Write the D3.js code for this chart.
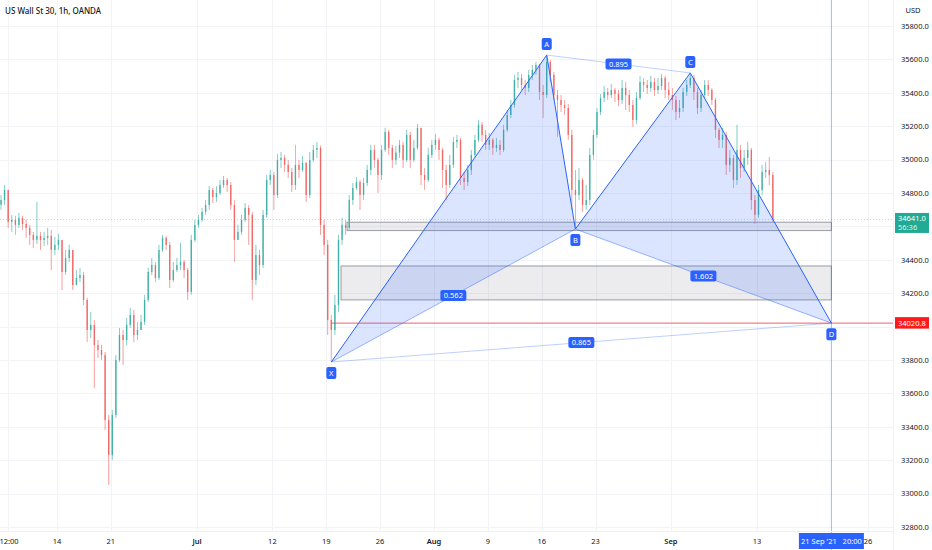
<!DOCTYPE html>
<html>
<head>
<meta charset="utf-8">
<script src="https://cdn.jsdelivr.net/npm/d3@7"></script>
<style>
  body { margin: 0; background: #fff; }
  svg { display: block; font-family: "Noto Sans", "Open Sans", sans-serif; }
</style>
</head>
<body>
<div id="chart"></div>
<script>
// US Wall St 30, 1h, OANDA - candles aggregated to 1/3 trading day each
// time unit: trading days since Mon 14 Jun 2021
const barStart = -5.2;
const barStep = 1 / 3;
const firstOpen = 34730;

const closes = [
  34758, 34818, 34627, 34639, 34609, 34651, 34615, 34591, 34549, 34519,
  34543, 34519, 34531, 34543, 34459, 34489, 34519, 34327, 34411, 34459,
  34249, 34291, 34309, 34160, 33980, 34010, 33890, 33860, 33830, 33441,
  33231, 33471, 33800, 33950, 33920, 34010, 34070, 33950, 33980, 34028,
  34160, 34327, 34369, 34291, 34459, 34531, 34489, 34279, 34339, 34369,
  34387, 34339, 34208, 34519, 34609, 34639, 34687, 34728, 34818, 34776,
  34800, 34848, 34878, 34848, 34728, 34519, 34567, 34639, 34710, 34669,
  34279, 34429, 34369, 34669, 34878, 34908, 34788, 34998, 35010, 34968,
  34926, 34848, 34968, 34938, 34980, 34788, 34998, 35058, 35070, 34609,
  34489, 34040, 33980, 34130, 34519, 34609, 34591, 34758, 34830, 34866,
  34788, 34860, 34938, 35058, 34998, 34908, 35058, 35166, 35070, 34998,
  35042, 35088, 34998, 35148, 34998, 35070, 35190, 34908, 34878, 35028,
  35088, 35118, 35058, 34938, 34848, 34968, 35106, 35118, 34890, 34866,
  34938, 35028, 35118, 35208, 35148, 35088, 35118, 35070, 35088, 35058,
  35178, 35267, 35327, 35477, 35489, 35447, 35429, 35507, 35537, 35567,
  35405, 35387, 35585, 35507, 35387, 35357, 35327, 35309, 35148, 34818,
  34788, 34878, 34728, 34758, 35028, 35148, 35285, 35369, 35405, 35387,
  35417, 35393, 35357, 35429, 35387, 35327, 35237, 35369, 35465, 35447,
  35429, 35465, 35417, 35441, 35489, 35417, 35387, 35357, 35285, 35309,
  35405, 35447, 35489, 35405, 35309, 35387, 35447, 35417, 35357, 35178,
  35118, 35148, 34968, 35010, 34878, 35058, 34950, 35010, 35058, 34758,
  34669, 34818, 34926, 34938, 34908, 34641
];

const highs = [
  34788, 34848, 34818, 34669, 34663, 34681, 34663, 34639, 34609, 34567,
  34746, 34567, 34567, 34591, 34579, 34537, 34555, 34519, 34459, 34489,
  34459, 34339, 34351, 34327, 34172, 34088, 34040, 33920, 33890, 33848,
  33471, 33501, 33830, 33992, 33980, 34052, 34112, 34100, 34028, 34070,
  34190, 34351, 34411, 34387, 34489, 34549, 34543, 34507, 34387, 34411,
  34501, 34399, 34351, 34549, 34639, 34669, 34710, 34758, 34842, 34830,
  34842, 34878, 34902, 34890, 34866, 34758, 34609, 34669, 34740, 34728,
  34687, 34489, 34459, 34699, 34908, 34938, 34926, 35034, 35046, 35028,
  34998, 34950, 35088, 34998, 35022, 34986, 35046, 35088, 35106, 35084,
  34639, 34519, 34070, 34190, 34549, 34651, 34639, 34788, 34860, 34896,
  34878, 34890, 34968, 35088, 35088, 35010, 35088, 35190, 35178, 35088,
  35082, 35118, 35106, 35178, 35166, 35118, 35213, 35178, 34950, 35070,
  35118, 35154, 35130, 35070, 34968, 35028, 35136, 35148, 35130, 34926,
  34968, 35058, 35148, 35237, 35225, 35178, 35160, 35130, 35130, 35118,
  35208, 35297, 35357, 35507, 35525, 35513, 35477, 35537, 35567, 35585,
  35573, 35447, 35626, 35597, 35525, 35417, 35387, 35357, 35333, 35178,
  34938, 34950, 34890, 34848, 35070, 35178, 35309, 35393, 35441, 35429,
  35453, 35429, 35417, 35477, 35465, 35417, 35357, 35405, 35501, 35489,
  35477, 35501, 35489, 35489, 35513, 35501, 35465, 35429, 35381, 35357,
  35429, 35477, 35519, 35507, 35429, 35417, 35477, 35477, 35429, 35369,
  35190, 35190, 35166, 35058, 35028, 35208, 35088, 35058, 35106, 35070,
  34788, 34848, 34968, 34986, 35016, 34926
];

const lows = [
  34699, 34728, 34591, 34567, 34549, 34591, 34579, 34531, 34489, 34471,
  34495, 34459, 34483, 34489, 34339, 34429, 34459, 34219, 34309, 34387,
  34219, 34249, 34267, 34130, 33908, 33932, 33633, 33812, 33800, 33381,
  33052, 33202, 33453, 33788, 33770, 33890, 33992, 33908, 33920, 33980,
  34010, 34148, 34309, 34267, 34279, 34447, 34459, 34231, 34267, 34327,
  34339, 34291, 34160, 34190, 34507, 34591, 34627, 34669, 34699, 34740,
  34746, 34788, 34830, 34806, 34699, 34387, 34519, 34549, 34627, 34489,
  34160, 34249, 34309, 34351, 34651, 34848, 34699, 34770, 34950, 34926,
  34890, 34806, 34818, 34890, 34926, 34746, 34770, 34986, 35010, 34549,
  34429, 33950, 33788, 33950, 34088, 34489, 34549, 34579, 34728, 34818,
  34699, 34758, 34842, 34908, 34950, 34800, 34878, 35046, 35028, 34950,
  34968, 35010, 34950, 34986, 34950, 34986, 35058, 34848, 34818, 34866,
  35010, 35058, 34998, 34830, 34758, 34830, 34950, 35070, 34848, 34818,
  34842, 34908, 35010, 35106, 35106, 35058, 35058, 35028, 35046, 35028,
  35046, 35166, 35249, 35309, 35429, 35417, 35387, 35405, 35477, 35507,
  35357, 35249, 35369, 35465, 35357, 35136, 35285, 35267, 35118, 34699,
  34584, 34758, 34687, 34699, 34728, 34998, 35130, 35267, 35345, 35357,
  35369, 35345, 35321, 35333, 35297, 35285, 35196, 35213, 35357, 35405,
  35393, 35405, 35381, 35393, 35417, 35369, 35357, 35297, 35237, 35249,
  35285, 35381, 35429, 35357, 35273, 35285, 35369, 35381, 35327, 35130,
  35070, 35070, 34908, 34926, 34830, 34848, 34890, 34926, 34968, 34699,
  34615, 34651, 34788, 34890, 34848, 34627
];

const priceTicks = [35800, 35600, 35400, 35200, 35000, 34800, 34600, 34400, 34200, 34000, 33800, 33600, 33400, 33200, 33000, 32800];
const hiddenPriceTicks = [34600, 34000];
const timeTicks = [-4.55, 0, 5, 13, 20, 25, 30, 35, 40, 45, 50, 57, 65, 75.3];
const timeLabels = ['12:00', '14', '21', 'Jul', '12', '19', '26', 'Aug', '9', '16', '23', 'Sep', '13', '26'];
const monthLabels = ['Jul', 'Aug', 'Sep'];

// XABCD pattern
const pointNames = ['X', 'A', 'B', 'C', 'D'];
const pointTimes = [25.47, 45.47, 48.13, 58.8, 71.9];
const pointPrices = [33788, 35626, 34584, 35519, 34020.8];
const ratioPairs = [['X', 'B'], ['A', 'C'], ['B', 'D'], ['X', 'D']];
const ratioLabels = ['0.562', '0.895', '1.602', '0.865'];

// gray zones
const zoneStarts = [26.93, 26.37];
const zoneEnds = [71.9, 71.9];
const zoneTops = [34625, 34363];
const zoneBottoms = [34575, 34160];

const lastPrice = 34641.0;
const countdown = '56:36';
const targetPrice = 34020.8;
const cursorLabel = "21 Sep '21   20:00";

const width = 932;
const height = 550;
const plotRight = 893;
const plotBottom = 531;

const upColor = '#26a69a';
const downColor = '#ef5350';
const blue = '#2962ff';
const textColor = '#131722';

let svg = d3.select('#chart')
    .append('svg')
    .attr('width', width)
    .attr('height', height);

let x = d3.scaleLinear()
    .domain([-5.293, 77.62])
    .range([0, plotRight]);

let y = d3.scaleLinear()
    .domain([35800, 32800])
    .range([26, 527]);

svg.append('defs').append('clipPath')
    .attr('id', 'plot-clip')
    .append('rect')
    .attr('width', plotRight)
    .attr('height', plotBottom);

let plot = svg.append('g').attr('clip-path', 'url(#plot-clip)');

// grid
plot.selectAll('.hgrid').data(priceTicks).enter().append('line')
    .attr('x1', 0).attr('x2', plotRight)
    .attr('y1', d => Math.round(y(d)) + 0.5).attr('y2', d => Math.round(y(d)) + 0.5)
    .style('stroke', '#f2f3f6');
plot.selectAll('.vgrid').data(timeTicks).enter().append('line')
    .attr('x1', d => Math.round(x(d)) + 0.5).attr('x2', d => Math.round(x(d)) + 0.5)
    .attr('y1', 0).attr('y2', plotBottom)
    .style('stroke', '#f2f3f6');

// candles
const candles = closes.map(function(c, i) {
    const o = i === 0 ? firstOpen : closes[i - 1];
    return {
        t: barStart + i * barStep,
        o: o,
        c: c,
        h: Math.max(highs[i], o, c),
        l: Math.min(lows[i], o, c)
    };
});
const bodyWidth = (x(barStep) - x(0)) * 0.4;

plot.selectAll('.wick').data(candles).enter().append('line')
    .attr('x1', d => x(d.t)).attr('x2', d => x(d.t))
    .attr('y1', d => y(d.h)).attr('y2', d => y(d.l))
    .style('stroke', d => d.c >= d.o ? upColor : downColor)
    .style('stroke-width', 0.7)
    .style('opacity', 0.8);

plot.selectAll('.body').data(candles).enter().append('rect')
    .attr('x', d => x(d.t) - bodyWidth / 2)
    .attr('y', d => y(Math.max(d.o, d.c)))
    .attr('width', bodyWidth)
    .attr('height', d => Math.max(0.8, Math.abs(y(d.o) - y(d.c))))
    .style('fill', d => d.c >= d.o ? upColor : downColor)
    .style('opacity', 0.75);

// last price line
plot.append('line')
    .attr('x1', 0).attr('x2', plotRight)
    .attr('y1', y(lastPrice)).attr('y2', y(lastPrice))
    .style('stroke', upColor)
    .style('stroke-opacity', 0.35)
    .style('stroke-dasharray', '1,2');

// zones
plot.selectAll('.zone').data(zoneStarts).enter().append('rect')
    .attr('x', (d, i) => x(d))
    .attr('y', (d, i) => y(zoneTops[i]))
    .attr('width', (d, i) => x(zoneEnds[i]) - x(d))
    .attr('height', (d, i) => y(zoneBottoms[i]) - y(zoneTops[i]))
    .style('fill', 'rgba(120,123,134,0.14)')
    .style('stroke', '#9a9ca3')
    .style('stroke-width', 1);

// target level from X
plot.append('line')
    .attr('x1', x(pointTimes[0])).attr('x2', plotRight)
    .attr('y1', y(targetPrice)).attr('y2', y(targetPrice))
    .style('stroke', '#f23645')
    .style('stroke-opacity', 0.8);

// vertical line at D
svg.append('line')
    .attr('x1', x(pointTimes[4])).attr('x2', x(pointTimes[4]))
    .attr('y1', 0).attr('y2', height)
    .style('stroke', blue)
    .style('stroke-opacity', 0.45);

// pattern
const pt = {};
pointNames.forEach(function(n, i) {
    pt[n] = [x(pointTimes[i]), y(pointPrices[i])];
});

plot.selectAll('.tri').data([['X', 'A', 'B'], ['B', 'C', 'D']]).enter().append('path')
    .attr('d', d => 'M' + d.map(n => pt[n].join(',')).join('L') + 'Z')
    .style('fill', blue)
    .style('fill-opacity', 0.17);

plot.selectAll('.leg').data([['X', 'A'], ['A', 'B'], ['B', 'C'], ['C', 'D']]).enter().append('line')
    .attr('x1', d => pt[d[0]][0]).attr('y1', d => pt[d[0]][1])
    .attr('x2', d => pt[d[1]][0]).attr('y2', d => pt[d[1]][1])
    .style('stroke', blue)
    .style('stroke-width', 1);

plot.selectAll('.ratio-line').data(ratioPairs).enter().append('line')
    .attr('x1', d => pt[d[0]][0]).attr('y1', d => pt[d[0]][1])
    .attr('x2', d => pt[d[1]][0]).attr('y2', d => pt[d[1]][1])
    .style('stroke', blue)
    .style('stroke-opacity', (d, i) => (i === 0 || i === 2) ? 0.45 : 0.3)
    .style('stroke-width', 1);

let ratioG = svg.selectAll('.ratio').data(ratioPairs).enter().append('g')
    .attr('transform', d => `translate(${(pt[d[0]][0] + pt[d[1]][0]) / 2}, ${(pt[d[0]][1] + pt[d[1]][1]) / 2})`);
ratioG.append('rect')
    .attr('x', -13).attr('y', -5.5)
    .attr('width', 26).attr('height', 11)
    .attr('rx', 2)
    .style('fill', blue);
ratioG.append('text')
    .attr('y', 2.6)
    .style('text-anchor', 'middle')
    .style('font-size', '7.5px')
    .style('fill', '#fff')
    .text((d, i) => ratioLabels[i]);

let pointG = svg.selectAll('.pt').data(pointNames).enter().append('g')
    .attr('transform', (d, i) => {
        const above = d === 'A' || d === 'C';
        return `translate(${pt[d][0]}, ${pt[d][1] + (above ? -11 : 11)})`;
    });
pointG.append('rect')
    .attr('x', -5).attr('y', -6)
    .attr('width', 10).attr('height', 12)
    .attr('rx', 2)
    .style('fill', blue);
pointG.append('text')
    .attr('y', 2.7)
    .style('text-anchor', 'middle')
    .style('font-size', '7.5px')
    .style('fill', '#fff')
    .text(d => d);

// axes frame
svg.append('line')
    .attr('x1', plotRight + 0.5).attr('x2', plotRight + 0.5)
    .attr('y1', 0).attr('y2', height)
    .style('stroke', '#eef0f3');
svg.append('line')
    .attr('x1', 0).attr('x2', plotRight)
    .attr('y1', plotBottom + 0.5).attr('y2', plotBottom + 0.5)
    .style('stroke', '#eef0f3');

// price axis
svg.selectAll('.ylab').data(priceTicks.filter(d => hiddenPriceTicks.indexOf(d) < 0)).enter().append('text')
    .attr('x', 901)
    .attr('y', d => y(d) + 2.7)
    .style('font-size', '7.5px')
    .style('fill', textColor)
    .text(d => d3.format('.1f')(d));

svg.append('text')
    .attr('x', 913).attr('y', 13)
    .style('text-anchor', 'middle')
    .style('font-size', '7.5px')
    .style('fill', textColor)
    .text('USD');

let lastG = svg.append('g').attr('transform', `translate(895, ${y(lastPrice)})`);
lastG.append('rect')
    .attr('y', -6.6).attr('width', 34).attr('height', 20)
    .style('fill', '#22ab94');
lastG.append('text')
    .attr('x', 3).attr('y', 1.8)
    .style('font-size', '7.5px').style('fill', '#fff')
    .text(d3.format('.1f')(lastPrice));
lastG.append('text')
    .attr('x', 3).attr('y', 10.5)
    .style('font-size', '7.5px').style('fill', '#fff').style('fill-opacity', 0.85)
    .text(countdown);

let targetG = svg.append('g').attr('transform', `translate(895, ${y(targetPrice)})`);
targetG.append('rect')
    .attr('y', -6).attr('width', 34).attr('height', 11.5)
    .style('fill', '#ff1a1a');
targetG.append('text')
    .attr('x', 3).attr('y', 2.6)
    .style('font-size', '7.5px').style('fill', '#fff')
    .text(d3.format('.1f')(targetPrice));

// time axis
svg.selectAll('.xlab').data(timeTicks).enter().append('text')
    .attr('x', d => Math.max(9, x(d)))
    .attr('y', 544)
    .style('text-anchor', 'middle')
    .style('font-size', '7.5px')
    .style('font-weight', (d, i) => monthLabels.indexOf(timeLabels[i]) >= 0 ? 600 : 400)
    .style('fill', textColor)
    .text((d, i) => timeLabels[i]);

let cursorG = svg.append('g').attr('transform', `translate(${x(pointTimes[4])}, 541)`);
cursorG.append('rect')
    .attr('x', -32.5).attr('y', -8)
    .attr('width', 65).attr('height', 16)
    .style('fill', blue);
cursorG.append('text')
    .attr('y', 2.7)
    .style('text-anchor', 'middle')
    .style('font-size', '7.5px')
    .style('fill', '#fff')
    .style('white-space', 'pre')
    .text(cursorLabel);

// title
svg.append('text')
    .attr('x', 5).attr('y', 14)
    .style('font-size', '8px')
    .style('font-weight', 500)
    .style('fill', textColor)
    .text('US Wall St 30, 1h, OANDA');
</script>
</body>
</html>
